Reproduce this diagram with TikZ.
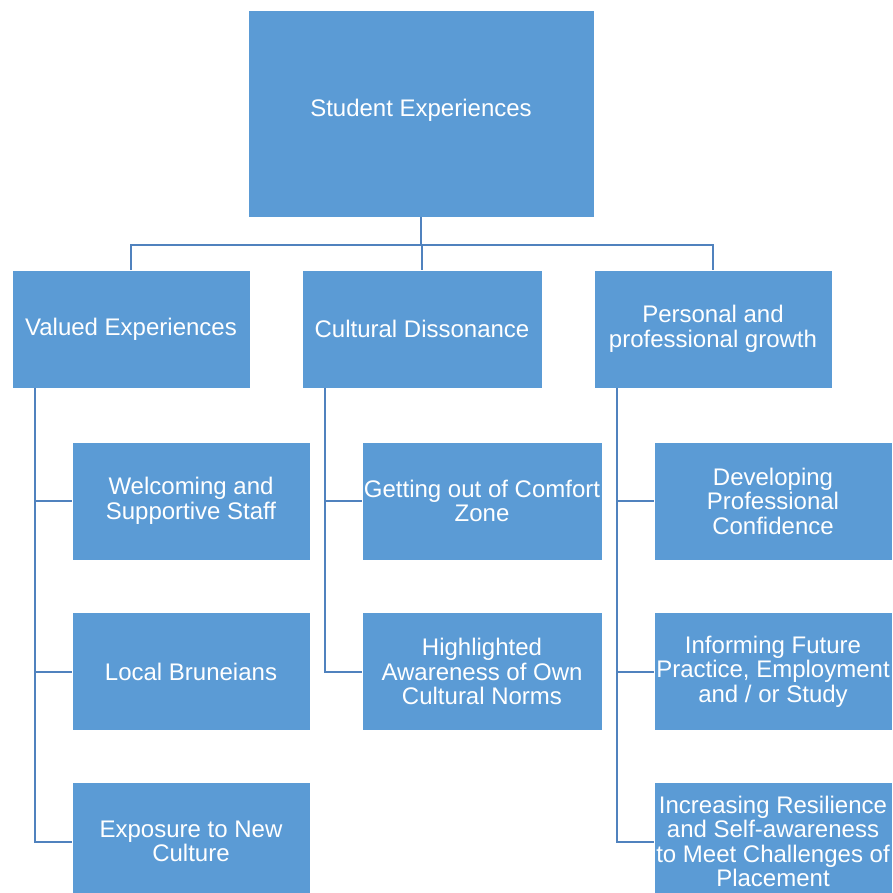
\documentclass[tikz,border=0pt]{standalone}
\usepackage{fontspec}
\setmainfont{Liberation Sans}
\definecolor{boxfill}{RGB}{91,155,213}
\definecolor{linec}{RGB}{80,130,190}
\begin{document}
\begin{tikzpicture}[x=1pt,y=-1pt,
  box/.style={draw=white,line width=0.8pt,fill=boxfill,text=white,inner sep=0pt,align=center,
    font=\fontsize{24}{24.5}\selectfont},
  conn/.style={draw=linec,line width=2pt}]
\useasboundingbox (0,0) rectangle (893,892);
\clip (0,0) rectangle (893,892);
% top
\node[box,minimum width=346,minimum height=207] (top) at (421,113.5) {};
\node[text=white,font=\fontsize{24}{24.5}\selectfont,inner sep=0pt] (toptext) at (421,110) {Student Experiences};
% level 1
\node[box,minimum width=238,minimum height=118] (val) at (131,329) {Valued Experiences};
\node[box,minimum width=240,minimum height=118] (cul) at (422,329) {Cultural Dissonance};
\node[box,minimum width=238,minimum height=118] (per) at (713,329) {Personal and\\professional growth};
% leaves valued
\node[box,minimum width=238,minimum height=118] (v1) at (191,501) {Welcoming and\\Supportive Staff};
\node[box,minimum width=238,minimum height=118] (v2) at (191,671.5) {Local Bruneians};
\node[box,minimum width=238,minimum height=118] (v3) at (191,841.5) {Exposure to New\\Culture};
% leaves cultural
\node[box,minimum width=240,minimum height=118] (c1) at (482,501) {Getting out of Comfort\\Zone};
\node[box,minimum width=240,minimum height=118] (c2) at (482,671.5) {Highlighted\\Awareness of Own\\Cultural Norms};
% leaves personal
\node[box,minimum width=238,minimum height=118] (p1) at (773,501) {Developing\\Professional\\Confidence};
\node[box,minimum width=238,minimum height=118] (p2) at (773,671.5) {Informing Future\\Practice, Employment\\and / or Study};
\node[box,minimum width=238,minimum height=118] (p3) at (773,841.5) {Increasing Resilience\\and Self-awareness\\to Meet Challenges of\\Placement};
% connectors top level
\coordinate (bus) at (0,245);
\draw[conn] (top.south) -- (top.south |- bus);
\draw[conn] (val.north) |- (per.north |- bus) -- (per.north);
\draw[conn] (cul.north) -- (cul.north |- bus);
% column lines
\coordinate (vx) at (35,0);
\coordinate (cx) at (325,0);
\coordinate (px) at (617,0);
\draw[conn] (vx |- val.south) |- (v3.west);
\draw[conn] (vx |- v1.west) -- (v1.west);
\draw[conn] (vx |- v2.west) -- (v2.west);
\draw[conn] (cx |- cul.south) |- (c2.west);
\draw[conn] (cx |- c1.west) -- (c1.west);
\draw[conn] (px |- per.south) |- (p3.west);
\draw[conn] (px |- p1.west) -- (p1.west);
\draw[conn] (px |- p2.west) -- (p2.west);
\end{tikzpicture}
\end{document}
